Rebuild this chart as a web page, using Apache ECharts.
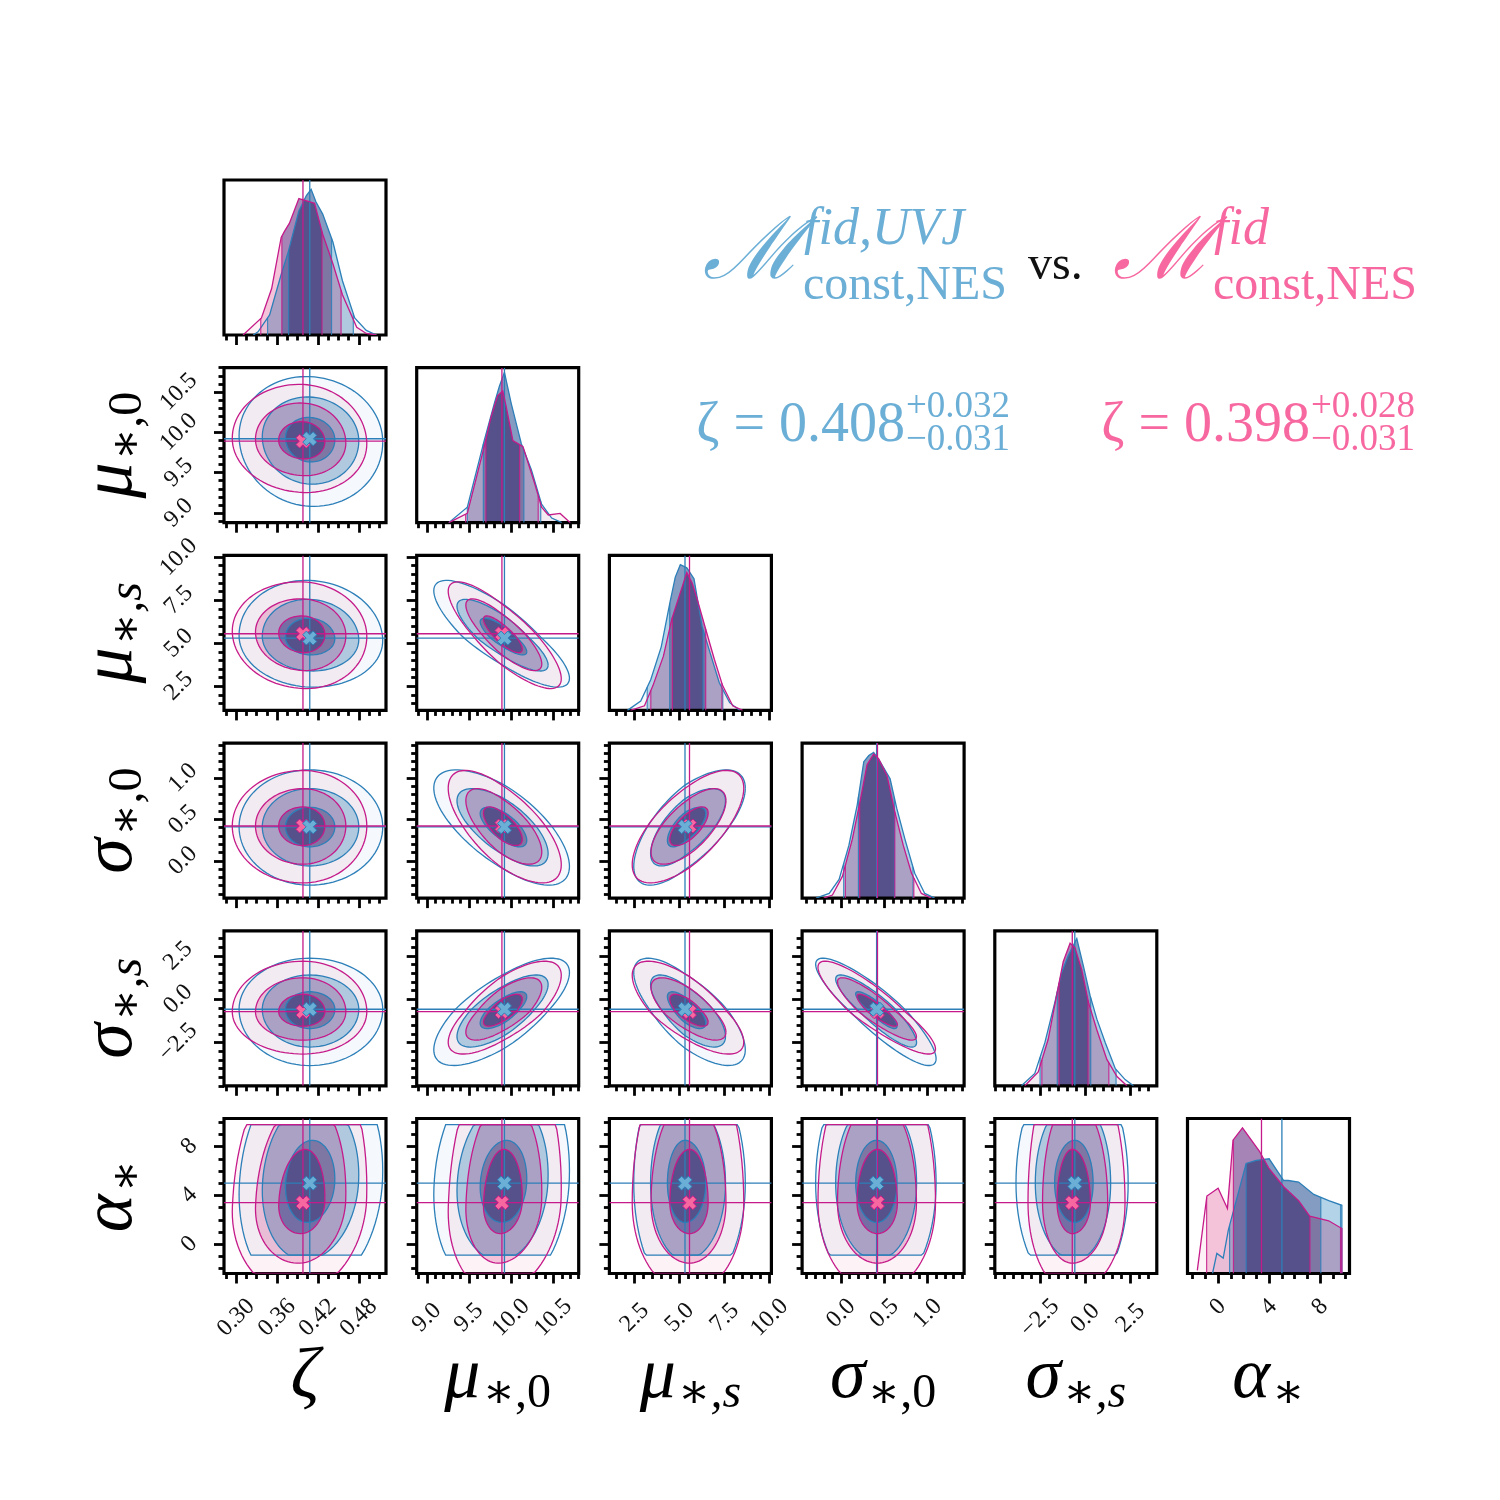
<!DOCTYPE html>
<html>
<head>
<meta charset="utf-8">
<script src="https://cdn.jsdelivr.net/npm/echarts@6/dist/echarts.min.js"></script>
<style>html,body{margin:0;background:#fff}#main{width:1500px;height:1500px}</style>
</head>
<body>
<div id="main"></div>
<script>
// parameter order: zeta, mu_{*,0}, mu_{*,s}, sigma_{*,0}, sigma_{*,s}, alpha_*
var ranges = [[0.282, 0.52], [8.88, 10.80], [1.1, 10.1], [-0.45, 1.42], [-5.0, 3.95], [-2.4, 10.3]];
var majorTicks = [[0.30, 0.36, 0.42, 0.48], [9.0, 9.5, 10.0, 10.5], [2.5, 5.0, 7.5, 10.0], [0.0, 0.5, 1.0], [-2.5, 0.0, 2.5], [0, 4, 8]];
var tickLabels = [['0.30', '0.36', '0.42', '0.48'], ['9.0', '9.5', '10.0', '10.5'], ['2.5', '5.0', '7.5', '10.0'], ['0.0', '0.5', '1.0'], ['\u22122.5', '0.0', '2.5'], ['0', '4', '8']];
var minorStep = [0.015, 0.1, 0.5, 0.1, 0.5, 1];

// quantiles [2sig lo, 1sig lo, median, 1sig hi, 2sig hi]
var blueQ = [
    [0.346, 0.377, 0.408, 0.440, 0.472],
    [9.48, 9.67, 9.92, 10.15, 10.35],
    [3.2, 4.45, 5.3, 6.3, 7.4],
    [0.03, 0.20, 0.41, 0.615, 0.83],
    [-2.5, -1.55, -0.58, 0.3, 1.7],
    [0.9, 2.2, 5.0, 8.05, 9.6]
];
var pinkQ = [
    [0.336, 0.367, 0.398, 0.426, 0.454],
    [9.46, 9.70, 9.89, 10.10, 10.32],
    [3.4, 4.6, 5.55, 6.45, 7.35],
    [0.05, 0.215, 0.42, 0.62, 0.84],
    [-2.4, -1.45, -0.72, 0.15, 1.3],
    [-0.9, 1.2, 3.4, 7.2, 9.6]
];
// prior cut of the posterior (only alpha is truncated)
var blueCut = [null, null, null, null, null, [-0.9, 9.8]];
var pinkCut = [null, null, null, null, null, [-2.4, 9.8]];

// correlation, lower triangle corr[row][col]
var corr = [
    [],
    [-0.05],
    [-0.05, -0.82],
    [0.0, -0.68, 0.68],
    [0.0, 0.72, -0.72, -0.88],
    [0.1, 0.1, 0.0, 0.0, 0.0]
];

// 1D marginals, x and height (fraction of panel)
var blueX = [
    [0.325, 0.332, 0.349, 0.366, 0.376, 0.392, 0.403, 0.410, 0.417, 0.427, 0.442, 0.456, 0.474, 0.491, 0.506],
    [9.26, 9.48, 9.68, 9.80, 9.86, 9.92, 10.00, 10.12, 10.24, 10.36, 10.48, 10.60],
    [2.1, 2.84, 3.4, 3.98, 4.47, 4.76, 5.04, 5.4, 5.8, 6.25, 6.75, 7.2, 7.78, 8.35],
    [-0.29, -0.137, -0.023, 0.09, 0.186, 0.262, 0.32, 0.376, 0.45, 0.566, 0.642, 0.737, 0.85, 0.966, 1.08],
    [-3.53, -2.79, -2.23, -1.68, -1.31, -0.94, -0.47, -0.1, 0.27, 0.64, 1.1, 1.66, 2.2, 2.66],
    [-0.44, -0.1, 0.4, 0.8, 2.2, 3.0, 4.0, 5.14, 5.5, 6.31, 7.5, 8.67, 9.7, 9.7]
];
var blueH = [
    [0, 0.02, 0.13, 0.39, 0.53, 0.80, 0.90, 0.94, 0.86, 0.78, 0.60, 0.35, 0.11, 0.03, 0],
    [0, 0.10, 0.53, 0.77, 0.88, 0.97, 0.77, 0.51, 0.34, 0.12, 0.03, 0],
    [0, 0.06, 0.20, 0.41, 0.70, 0.86, 0.94, 0.92, 0.85, 0.54, 0.35, 0.18, 0.05, 0],
    [0, 0.03, 0.12, 0.34, 0.60, 0.88, 0.92, 0.94, 0.88, 0.77, 0.58, 0.38, 0.16, 0.03, 0],
    [0, 0.08, 0.28, 0.54, 0.73, 0.84, 0.95, 0.77, 0.58, 0.43, 0.28, 0.11, 0.04, 0],
    [0, 0.13, 0.10, 0.28, 0.71, 0.73, 0.74, 0.60, 0.60, 0.59, 0.51, 0.47, 0.44, 0]
];
var pinkX = [
    [0.310, 0.337, 0.352, 0.366, 0.371, 0.378, 0.392, 0.407, 0.415, 0.427, 0.442, 0.456, 0.477, 0.491, 0.506],
    [9.26, 9.48, 9.68, 9.76, 9.84, 9.90, 9.94, 10.02, 10.14, 10.28, 10.36, 10.44, 10.58, 10.70],
    [2.27, 3.05, 3.52, 4.1, 4.57, 5.04, 5.4, 5.7, 5.97, 6.46, 6.93, 7.39, 7.95, 8.5],
    [-0.2, -0.1, 0.015, 0.13, 0.225, 0.30, 0.376, 0.433, 0.53, 0.623, 0.718, 0.813, 0.927, 1.04],
    [-3.34, -2.6, -2.05, -1.59, -1.22, -0.84, -0.57, -0.2, 0.17, 0.64, 1.19, 1.75, 2.3],
    [-1.63, -0.88, 0.0, 0.73, 1.17, 1.91, 3.23, 3.97, 5.14, 6.31, 7.18, 8.67, 9.7, 9.7]
];
var pinkH = [
    [0, 0.11, 0.30, 0.63, 0.67, 0.72, 0.88, 0.86, 0.85, 0.65, 0.46, 0.26, 0.05, 0.01, 0],
    [0, 0.06, 0.49, 0.68, 0.82, 0.85, 0.75, 0.53, 0.49, 0.25, 0.10, 0.05, 0.06, 0],
    [0, 0.03, 0.16, 0.35, 0.59, 0.76, 0.89, 0.82, 0.72, 0.52, 0.33, 0.16, 0.03, 0],
    [0, 0.02, 0.14, 0.38, 0.64, 0.86, 0.93, 0.90, 0.79, 0.55, 0.34, 0.16, 0.03, 0],
    [0, 0.09, 0.30, 0.58, 0.80, 0.92, 0.89, 0.75, 0.54, 0.36, 0.17, 0.06, 0],
    [0.02, 0.50, 0.55, 0.42, 0.86, 0.94, 0.79, 0.68, 0.56, 0.47, 0.37, 0.34, 0.29, 0]
];

var contourR = [1.15, 2.25, 3.35];
// multiply factors, outer -> inner
var blueFill = ['#f5f8fc', '#bbdaeb', '#bcbcd4'];
var pinkFill = ['#fdf2f5', '#f6cde2', '#aeaed6'];
var lineCol = ['#2c7fb8', '#c51b8a'];
var crossFill = ['#6baed6', '#f768a1'];
var textCol = ['#6baed6', '#f768a1'];

var Q = [blueQ, pinkQ], CX = [blueX, pinkX], CH = [blueH, pinkH];
var FILL = [blueFill, pinkFill], CUT = [blueCut, pinkCut];

var L0 = 224, DX = 192.7, W = 162, T0 = 180, DY = 187.7, H = 155;
var SERIF = '"Liberation Serif", "DejaVu Serif", serif';
var TICK_FS = 24;
var grids = [], xAxis = [], yAxis = [], series = [];

var measure = document.createElement('canvas').getContext('2d');
function textW(t, font) { measure.font = font; return measure.measureText(t).width; }

function fmt(c) {
    return function (v) {
        for (var i = 0; i < majorTicks[c].length; i++) {
            if (Math.abs(majorTicks[c][i] - v) < 1e-9) return tickLabels[c][i];
        }
        return '';
    };
}
function minors(c) {
    var out = [], s = minorStep[c], r = ranges[c];
    for (var k = Math.ceil(r[0] / s - 1e-9); k * s <= r[1] + 1e-9; k++) {
        var v = Math.round(k * s * 1e6) / 1e6;
        var isMaj = majorTicks[c].some(function (m) { return Math.abs(m - v) < 1e-9; });
        if (!isMaj) out.push(v);
    }
    return out;
}
// half size of a 45 degree rotated label box
function halfBox(c) {
    var w = 0;
    tickLabels[c].forEach(function (t) { w = Math.max(w, textW(t, TICK_FS + 'px ' + SERIF)); });
    return (w + 0.75 * TICK_FS) / (2 * Math.SQRT2);
}
function axisPair(kind, gi, c, showLabels) {
    var r = ranges[c];
    var base = {
        type: 'value', gridIndex: gi, position: kind === 'x' ? 'bottom' : 'left',
        min: r[0], max: r[1], axisLine: { show: false, onZero: false }, splitLine: { show: false }
    };
    var major = Object.assign({}, base, {
        axisTick: { show: true, customValues: majorTicks[c], length: 10, lineStyle: { color: '#000', width: 2.8 } },
        axisLabel: {
            show: showLabels, customValues: majorTicks[c], formatter: fmt(c), rotate: 45,
            align: 'center', verticalAlign: 'middle',
            margin: (kind === 'x' ? 23 : 24) + halfBox(c),
            fontFamily: SERIF, fontSize: TICK_FS, color: '#111'
        }
    });
    var minor = Object.assign({}, base, {
        axisTick: { show: true, customValues: minors(c), length: 5.5, lineStyle: { color: '#000', width: 2.8 } },
        axisLabel: { show: false }
    });
    return [major, minor];
}

function interp(xs, hs, x) {
    if (x <= xs[0]) return hs[0];
    for (var i = 1; i < xs.length; i++) {
        if (x <= xs[i]) {
            var d = xs[i] - xs[i - 1];
            if (d <= 0) return hs[i - 1];
            return hs[i - 1] + (x - xs[i - 1]) / d * (hs[i] - hs[i - 1]);
        }
    }
    return hs[hs.length - 1];
}
function band(xs, hs, a, b) {
    a = Math.max(a, xs[0]); b = Math.min(b, xs[xs.length - 1]);
    var pts = [[a, 0], [a, interp(xs, hs, a)]];
    for (var i = 0; i < xs.length; i++) if (xs[i] > a && xs[i] < b) pts.push([xs[i], hs[i]]);
    pts.push([b, interp(xs, hs, b)], [b, 0]);
    return pts;
}
function clampTo(v, cut) {
    if (!cut) return v;
    return Math.min(cut[1], Math.max(cut[0], v));
}
// contour of model m in panel (row, col) at Mahalanobis radius r
function contour(m, row, col, r) {
    var qx = Q[m][col], qy = Q[m][row], rho = corr[row][col];
    var pts = [];
    for (var k = 0; k <= 96; k++) {
        var t = k / 96 * 2 * Math.PI;
        var u = r * Math.cos(t), w = r * Math.sin(t);
        var dy = rho * u + Math.sqrt(1 - rho * rho) * w;
        var x = qx[2] + u * (u < 0 ? qx[2] - qx[1] : qx[3] - qx[2]);
        var y = qy[2] + dy * (dy < 0 ? qy[2] - qy[1] : qy[3] - qy[2]);
        pts.push([clampTo(x, CUT[m][col]), clampTo(y, CUT[m][row])]);
    }
    return pts;
}
function toPx(api, pts) { return pts.map(function (p) { return api.coord(p); }); }
function lineShape(a, b) { return { x1: a[0], y1: a[1], x2: b[0], y2: b[1] }; }

var crossPath = 'path://M2.6,0 L5,2.4 L7.4,0 L10,2.6 L7.6,5 L10,7.4 L7.4,10 L5,7.6 L2.6,10 L0,7.4 L2.4,5 L0,2.6 Z';

function add2D(row, col, xi, yi) {
    [0, 1].forEach(function (m) {
        series.push({
            type: 'custom', xAxisIndex: xi, yAxisIndex: yi, clip: true, silent: true, z: 2,
            blendMode: 'multiply',
            data: [[Q[m][col][2], Q[m][row][2]]],
            renderItem: function (p, api) {
                var ch = [];
                for (var l = 2; l >= 0; l--) {
                    ch.push({ type: 'polygon', shape: { points: toPx(api, contour(m, row, col, contourR[l])) },
                        style: { fill: FILL[m][2 - l] } });
                }
                return { type: 'group', children: ch };
            }
        });
    });
    [0, 1].forEach(function (m) {
        series.push({
            type: 'custom', xAxisIndex: xi, yAxisIndex: yi, clip: true, silent: true, z: 3,
            data: [[Q[m][col][2], Q[m][row][2]]],
            renderItem: function (p, api) {
                var ch = [];
                for (var l = 0; l < 3; l++) {
                    ch.push({ type: 'polyline', shape: { points: toPx(api, contour(m, row, col, contourR[l])) },
                        style: { stroke: lineCol[m], lineWidth: 1.3, fill: null } });
                }
                var mx = Q[m][col][2], my = Q[m][row][2], rx = ranges[col], ry = ranges[row];
                ch.push({ type: 'line', shape: lineShape(api.coord([mx, ry[0]]), api.coord([mx, ry[1]])),
                    style: { stroke: lineCol[m], lineWidth: 1.3 } });
                ch.push({ type: 'line', shape: lineShape(api.coord([rx[0], my]), api.coord([rx[1], my])),
                    style: { stroke: lineCol[m], lineWidth: 1.3 } });
                return { type: 'group', children: ch };
            }
        });
    });
    [1, 0].forEach(function (m) {
        series.push({
            type: 'scatter', xAxisIndex: xi, yAxisIndex: yi, silent: true, z: 6,
            symbol: crossPath, symbolSize: 14,
            itemStyle: { color: crossFill[m], borderColor: lineCol[m], borderWidth: 1, opacity: 1 },
            data: [[Q[m][col][2], Q[m][row][2]]]
        });
    });
}

function addDiag(c, xi, yi) {
    [0, 1].forEach(function (m) {
        var xs = CX[m][c], hs = CH[m][c], q = Q[m][c];
        series.push({
            type: 'custom', xAxisIndex: xi, yAxisIndex: yi, clip: true, silent: true, z: 2,
            blendMode: 'multiply',
            data: [[q[2], 0]],
            renderItem: function (p, api) {
                return { type: 'group', children: [
                    { type: 'polygon', shape: { points: toPx(api, band(xs, hs, xs[0], xs[xs.length - 1])) }, style: { fill: FILL[m][0] } },
                    { type: 'polygon', shape: { points: toPx(api, band(xs, hs, q[0], q[4])) }, style: { fill: FILL[m][1] } },
                    { type: 'polygon', shape: { points: toPx(api, band(xs, hs, q[1], q[3])) }, style: { fill: FILL[m][2] } }
                ] };
            }
        });
    });
    [0, 1].forEach(function (m) {
        var xs = CX[m][c], hs = CH[m][c], q = Q[m][c];
        series.push({
            type: 'custom', xAxisIndex: xi, yAxisIndex: yi, clip: true, silent: true, z: 3,
            data: [[q[2], 0]],
            renderItem: function (p, api) {
                var curve = xs.map(function (x, i) { return [x, hs[i]]; });
                var ch = [{ type: 'polyline', shape: { points: toPx(api, curve) }, style: { stroke: lineCol[m], lineWidth: 1.3, fill: null } }];
                [q[0], q[1], q[3], q[4]].forEach(function (e) {
                    ch.push({ type: 'line', shape: lineShape(api.coord([e, 0]), api.coord([e, interp(xs, hs, e)])),
                        style: { stroke: lineCol[m], lineWidth: 1.2, opacity: 0.85 } });
                });
                ch.push({ type: 'line', shape: lineShape(api.coord([q[2], 0]), api.coord([q[2], 1])),
                    style: { stroke: lineCol[m], lineWidth: 1.3 } });
                return { type: 'group', children: ch };
            }
        });
    });
}

for (var row = 0; row < 6; row++) {
    for (var col = 0; col <= row; col++) {
        var gi = grids.length;
        grids.push({ left: L0 + col * DX, top: T0 + row * DY, width: W, height: H, show: true,
            borderColor: '#000', borderWidth: 3.2, backgroundColor: 'rgba(0,0,0,0)' });
        var xi = xAxis.length;
        var xp = axisPair('x', gi, col, row === 5);
        xAxis.push(xp[0], xp[1]);
        var yi = yAxis.length;
        if (row === col) {
            yAxis.push({ type: 'value', gridIndex: gi, min: 0, max: 1, show: false });
            addDiag(col, xi, yi);
        } else {
            var yp = axisPair('y', gi, row, col === 0);
            yAxis.push(yp[0], yp[1]);
            add2D(row, col, xi, yi);
        }
    }
}

// axis titles
var symMain = ['\u03b6', '\u03bc', '\u03bc', '\u03c3', '\u03c3', '\u03b1'];
var symSub = ['', '\u2217,0', '\u2217,s', '\u2217,0', '\u2217,s', '\u2217'];
var mainFont = 'italic 72px ' + SERIF;
var graphics = [];
function mathLabel(i, x, y, rot) {
    var subFont = (symSub[i].indexOf('s') >= 0 ? 'italic ' : '') + '48px ' + SERIF;
    var w1 = textW(symMain[i], mainFont), w2 = symSub[i] ? textW(symSub[i], subFont) + 2 : 0;
    var start = -(w1 + w2) / 2;
    var ch = [{ type: 'text', x: start, y: 0, style: { text: symMain[i], font: mainFont, fill: '#000',
        align: 'left', verticalAlign: 'middle' } }];
    if (symSub[i]) ch.push({ type: 'text', x: start + w1 + 2, y: 16, style: { text: symSub[i], font: subFont, fill: '#000',
        align: 'left', verticalAlign: 'middle' } });
    return { type: 'group', x: x, y: y, rotation: rot, children: ch };
}
for (var i = 0; i < 6; i++) {
    graphics.push(mathLabel(i, L0 + i * DX + W / 2, 1378, 0));
    if (i > 0) graphics.push(mathLabel(i, 112, T0 + i * DY + H / 2, Math.PI / 2));
}
function tx(text, x, y, font, fill, align) {
    return { type: 'text', x: x, y: y, style: { text: text, font: font, fill: fill, align: align || 'left', verticalAlign: 'middle' } };
}
// legend title
graphics.push(tx('\u2133', 802, 256, 'italic 86px "DejaVu Serif", serif', textCol[0], 'right'));
graphics.push(tx('fid,UVJ', 804, 230, 'italic 52px ' + SERIF, textCol[0]));
graphics.push(tx('const,NES', 803, 286, '48px ' + SERIF, textCol[0]));
graphics.push(tx('vs.', 1028, 266, '48px ' + SERIF, '#111'));
graphics.push(tx('\u2133', 1212, 256, 'italic 86px "DejaVu Serif", serif', textCol[1], 'right'));
graphics.push(tx('fid', 1214, 230, 'italic 52px ' + SERIF, textCol[1]));
graphics.push(tx('const,NES', 1213, 286, '48px ' + SERIF, textCol[1]));
// summary of zeta
graphics.push(tx('\u03b6 = 0.408', 905, 426, '56px ' + SERIF, textCol[0], 'right'));
graphics.push(tx('+0.032', 906, 407, '37px ' + SERIF, textCol[0]));
graphics.push(tx('\u22120.031', 906, 440, '37px ' + SERIF, textCol[0]));
graphics.push(tx('\u03b6 = 0.398', 1310, 426, '56px ' + SERIF, textCol[1], 'right'));
graphics.push(tx('+0.028', 1311, 407, '37px ' + SERIF, textCol[1]));
graphics.push(tx('\u22120.031', 1311, 440, '37px ' + SERIF, textCol[1]));

var chart = echarts.init(document.getElementById('main'), null, { renderer: 'canvas' });
chart.setOption({
    backgroundColor: '#ffffff',
    animation: false,
    grid: grids,
    xAxis: xAxis,
    yAxis: yAxis,
    series: series,
    graphic: graphics
});
</script>
</body>
</html>
